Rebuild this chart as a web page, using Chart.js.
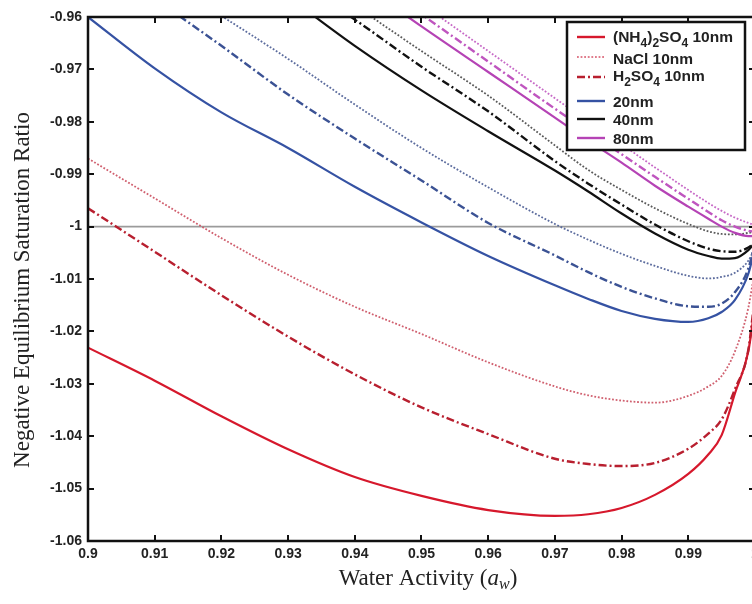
<!DOCTYPE html>
<html>
<head>
<meta charset="utf-8">
<script src="https://cdn.jsdelivr.net/npm/chart.js@4.4.1/dist/chart.umd.min.js"></script>
<style>
html, body { margin: 0; padding: 0; background: #fff; overflow: hidden; }
#wrap { width: 770px; height: 604px; }
</style>
</head>
<body>
<div id="wrap"><canvas id="chart" width="770" height="604"></canvas></div>
<script>
// water activity grid shared by all curves
var aw = [0.90, 0.91, 0.92, 0.93, 0.94, 0.95, 0.96, 0.97, 0.975, 0.98, 0.985, 0.99, 0.993, 0.995, 0.997, 0.999, 1.0];

// 10 nm
var amsul10 = [-1.0231, -1.0294, -1.0362, -1.0425, -1.0478, -1.0514, -1.0541, -1.0552, -1.0549, -1.0537, -1.0512, -1.0472, -1.0435, -1.0398, -1.0318, -1.0238, -1.0150];
var nacl10  = [-0.9870, -0.9946, -1.0022, -1.0092, -1.0153, -1.0205, -1.0259, -1.0305, -1.0322, -1.0332, -1.0336, -1.0323, -1.0305, -1.0285, -1.0238, -1.0155, -1.0080];
var h2so410 = [-0.9965, -1.0048, -1.0131, -1.0210, -1.0282, -1.0345, -1.0396, -1.0443, -1.0453, -1.0457, -1.0451, -1.0424, -1.0395, -1.0368, -1.0310, -1.0235, -1.0130];
// 20 nm
var amsul20 = [-0.9600, -0.9698, -0.9782, -0.9850, -0.9924, -0.9992, -1.0056, -1.0112, -1.0138, -1.0161, -1.0176, -1.0182, -1.0175, -1.0163, -1.0140, -1.0090, -1.0040];
var nacl20  = [-0.9435, -0.9520, -0.9598, -0.9680, -0.9767, -0.9850, -0.9925, -0.9995, -1.0025, -1.0052, -1.0075, -1.0094, -1.0099, -1.0096, -1.0088, -1.0065, -1.0040];
var h2so420 = [-0.9475, -0.9565, -0.9655, -0.9748, -0.9832, -0.9912, -0.9993, -1.0055, -1.0087, -1.0115, -1.0137, -1.0152, -1.0153, -1.0147, -1.0125, -1.0080, -1.0030];
// 40 nm
var amsul40 = [-0.9280, -0.9380, -0.9475, -0.9562, -0.9655, -0.9740, -0.9818, -0.9893, -0.9933, -0.9975, -1.0013, -1.0044, -1.0056, -1.0061, -1.0060, -1.0045, -1.0030];
var nacl40  = [-0.9220, -0.9310, -0.9400, -0.9490, -0.9578, -0.9665, -0.9750, -0.9845, -0.9892, -0.9930, -0.9965, -0.9995, -1.0009, -1.0014, -1.0015, -1.0012, -1.0010];
var h2so440 = [-0.9250, -0.9340, -0.9430, -0.9520, -0.9605, -0.9695, -0.9780, -0.9875, -0.9918, -0.9958, -0.9996, -1.0028, -1.0042, -1.0047, -1.0048, -1.0040, -1.0030];
// 80 nm
var amsul80 = [-0.9175, -0.9265, -0.9352, -0.9440, -0.9528, -0.9618, -0.9705, -0.9792, -0.9836, -0.9878, -0.9922, -0.9962, -0.9985, -1.0000, -1.0012, -1.0018, -1.0018];
var nacl80  = [-0.9130, -0.9220, -0.9310, -0.9395, -0.9485, -0.9575, -0.9665, -0.9755, -0.9800, -0.9843, -0.9887, -0.9930, -0.9955, -0.9970, -0.9983, -0.9993, -0.9997];
var h2so480 = [-0.9150, -0.9240, -0.9328, -0.9415, -0.9505, -0.9595, -0.9685, -0.9775, -0.9818, -0.9862, -0.9905, -0.9947, -0.9972, -0.9988, -1.0000, -1.0008, -1.0010];

var xTicks = [0.9, 0.91, 0.92, 0.93, 0.94, 0.95, 0.96, 0.97, 0.98, 0.99, 1.0];
var yTicks = [-0.96, -0.97, -0.98, -0.99, -1, -1.01, -1.02, -1.03, -1.04, -1.05, -1.06];

var DOT = [1.8, 1.8];
var DASHDOT = [8, 3, 2, 3];

function pts(ys) {
    var out = [];
    for (var i = 0; i < aw.length; i++) {
        out.push({x: aw[i], y: ys[i]});
    }
    return out;
}

function line(label, ys, color, dash, width) {
    return {
        label: label,
        data: pts(ys),
        borderColor: color,
        backgroundColor: color,
        borderWidth: width,
        borderDash: dash,
        pointRadius: 0,
        fill: false,
        cubicInterpolationMode: 'monotone'
    };
}

var datasets = [
    {
        label: 'unity',
        data: [{x: 0.9, y: -1}, {x: 1.0, y: -1}],
        borderColor: '#9b9b9b',
        borderWidth: 1.6,
        pointRadius: 0,
        order: 99
    },
    line('NaCl 80nm', nacl80, '#c76ac7', DOT, 1.8),
    line('H2SO4 80nm', h2so480, '#bf55bf', DASHDOT, 2.4),
    line('80nm', amsul80, '#b543b5', [], 2.2),
    line('NaCl 40nm', nacl40, '#5a5a5a', DOT, 1.8),
    line('H2SO4 40nm', h2so440, '#111111', DASHDOT, 2.4),
    line('40nm', amsul40, '#111111', [], 2.2),
    line('NaCl 20nm', nacl20, '#5b6b9d', DOT, 1.8),
    line('H2SO4 20nm', h2so420, '#3b5294', DASHDOT, 2.4),
    line('20nm', amsul20, '#3552a3', [], 2.2),
    line('NaCl 10nm', nacl10, '#d0606f', DOT, 1.8),
    line('H2SO4 10nm', h2so410, '#b81f2f', DASHDOT, 2.4),
    line('(NH4)2SO4 10nm', amsul10, '#d6182c', [], 2.2)
];

// legend rows: [parts, colour, dash, sample y, text baseline]
var legendRows = [
    [[['(NH', 0], ['4', 1], [')', 0], ['2', 1], ['SO', 0], ['4', 1], [' 10nm', 0]], '#d6182c', [], 37, 42],
    [[['NaCl 10nm', 0]], '#e07c8c', DOT, 57, 64],
    [[['H', 0], ['2', 1], ['SO', 0], ['4', 1], [' 10nm', 0]], '#b81f2f', DASHDOT, 77, 81],
    [[['20nm', 0]], '#3552a3', [], 101, 107],
    [[['40nm', 0]], '#111111', [], 119, 125],
    [[['80nm', 0]], '#b543b5', [], 138, 144]
];

function drawParts(ctx, parts, x, y, size) {
    for (var i = 0; i < parts.length; i++) {
        var sub = parts[i][1];
        ctx.font = 'bold ' + (sub ? Math.round(size * 0.75) : size) + 'px "Liberation Sans", Arial, sans-serif';
        ctx.fillText(parts[i][0], x, sub ? y + 5 : y);
        x += ctx.measureText(parts[i][0]).width;
    }
}

var framePlugin = {
    id: 'frame',
    afterDatasetsDraw: function(chart) {
        var ctx = chart.ctx;
        var a = chart.chartArea;
        var xs = chart.scales.x, ys = chart.scales.y;
        ctx.save();

        // inward ticks
        ctx.strokeStyle = '#111';
        ctx.lineWidth = 2;
        ctx.beginPath();
        for (var i = 0; i < xTicks.length; i++) {
            var px = Math.round(xs.getPixelForValue(xTicks[i]));
            ctx.moveTo(px, a.bottom); ctx.lineTo(px, a.bottom - 6);
            ctx.moveTo(px, a.top); ctx.lineTo(px, a.top + 6);
        }
        for (var j = 0; j < yTicks.length; j++) {
            var py = Math.round(ys.getPixelForValue(yTicks[j]));
            ctx.moveTo(a.left, py); ctx.lineTo(a.left + 6, py);
            ctx.moveTo(a.right, py); ctx.lineTo(a.right - 6, py);
        }
        ctx.stroke();

        // frame
        ctx.lineWidth = 2.5;
        ctx.strokeRect(a.left, a.top, a.right - a.left, a.bottom - a.top);

        // legend
        ctx.fillStyle = '#fff';
        ctx.fillRect(567, 22, 178, 128);
        ctx.lineWidth = 2.5;
        ctx.strokeStyle = '#111';
        ctx.strokeRect(567, 22, 178, 128);
        for (var k = 0; k < legendRows.length; k++) {
            var r = legendRows[k];
            ctx.beginPath();
            ctx.strokeStyle = r[1];
            ctx.lineWidth = r[2].length == 2 ? 1.8 : 2.4;
            ctx.setLineDash(r[2]);
            ctx.moveTo(577, r[3]); ctx.lineTo(605, r[3]);
            ctx.stroke();
            ctx.setLineDash([]);
            ctx.fillStyle = '#222';
            ctx.textBaseline = 'alphabetic';
            ctx.textAlign = 'left';
            drawParts(ctx, r[0], 613, r[4], 15.5);
        }

        // y title
        ctx.save();
        ctx.translate(23, (a.top + a.bottom) / 2 + 11);
        ctx.rotate(-Math.PI / 2);
        ctx.fillStyle = '#222';
        ctx.font = '23px "Liberation Serif", "Times New Roman", serif';
        ctx.textAlign = 'center';
        ctx.textBaseline = 'middle';
        ctx.fillText('Negative Equilibrium Saturation Ratio', 0, 0);
        ctx.restore();

        // x title with italic a and subscript w
        var f = '"Liberation Serif", "Times New Roman", serif';
        var p1 = 'Water Activity (';
        ctx.font = '23px ' + f;
        var w1 = ctx.measureText(p1).width;
        ctx.font = 'italic 23px ' + f;
        var w2 = ctx.measureText('a').width;
        ctx.font = 'italic 16px ' + f;
        var w3 = ctx.measureText('w').width;
        ctx.font = '23px ' + f;
        var w4 = ctx.measureText(')').width;
        var x0 = 428 - (w1 + w2 + w3 + w4) / 2;
        var by = 585;
        ctx.fillStyle = '#222';
        ctx.textAlign = 'left';
        ctx.textBaseline = 'alphabetic';
        ctx.font = '23px ' + f;
        ctx.fillText(p1, x0, by);
        ctx.font = 'italic 23px ' + f;
        ctx.fillText('a', x0 + w1, by);
        ctx.font = 'italic 16px ' + f;
        ctx.fillText('w', x0 + w1 + w2, by + 4);
        ctx.font = '23px ' + f;
        ctx.fillText(')', x0 + w1 + w2 + w3, by);

        ctx.restore();
    }
};

function fmt(v) {
    return String(parseFloat(Number(v).toFixed(2)));
}

var tickFont = {family: '"Liberation Sans", Arial, sans-serif', size: 14, weight: 'bold'};

new Chart(document.getElementById('chart').getContext('2d'), {
    type: 'line',
    data: {datasets: datasets},
    options: {
        responsive: false,
        animation: false,
        devicePixelRatio: 1,
        layout: {padding: {top: 17, right: 15, left: 0, bottom: 0}},
        plugins: {legend: {display: false}, tooltip: {enabled: false}},
        scales: {
            x: {
                type: 'linear',
                min: 0.9,
                max: 1.0,
                afterBuildTicks: function(s) { s.ticks = xTicks.map(function(v) { return {value: v}; }); },
                afterFit: function(s) { s.height = 63; },
                grid: {display: false, drawTicks: false},
                border: {display: false},
                ticks: {color: '#222', font: tickFont, padding: 5, maxRotation: 0, autoSkip: false, callback: fmt}
            },
            y: {
                type: 'linear',
                min: -1.06,
                max: -0.96,
                afterBuildTicks: function(s) { s.ticks = yTicks.map(function(v) { return {value: v}; }); },
                afterFit: function(s) { s.width = 88; },
                grid: {display: false, drawTicks: false},
                border: {display: false},
                ticks: {color: '#222', font: tickFont, padding: 6, autoSkip: false, callback: fmt}
            }
        }
    },
    plugins: [framePlugin]
});
</script>
</body>
</html>
